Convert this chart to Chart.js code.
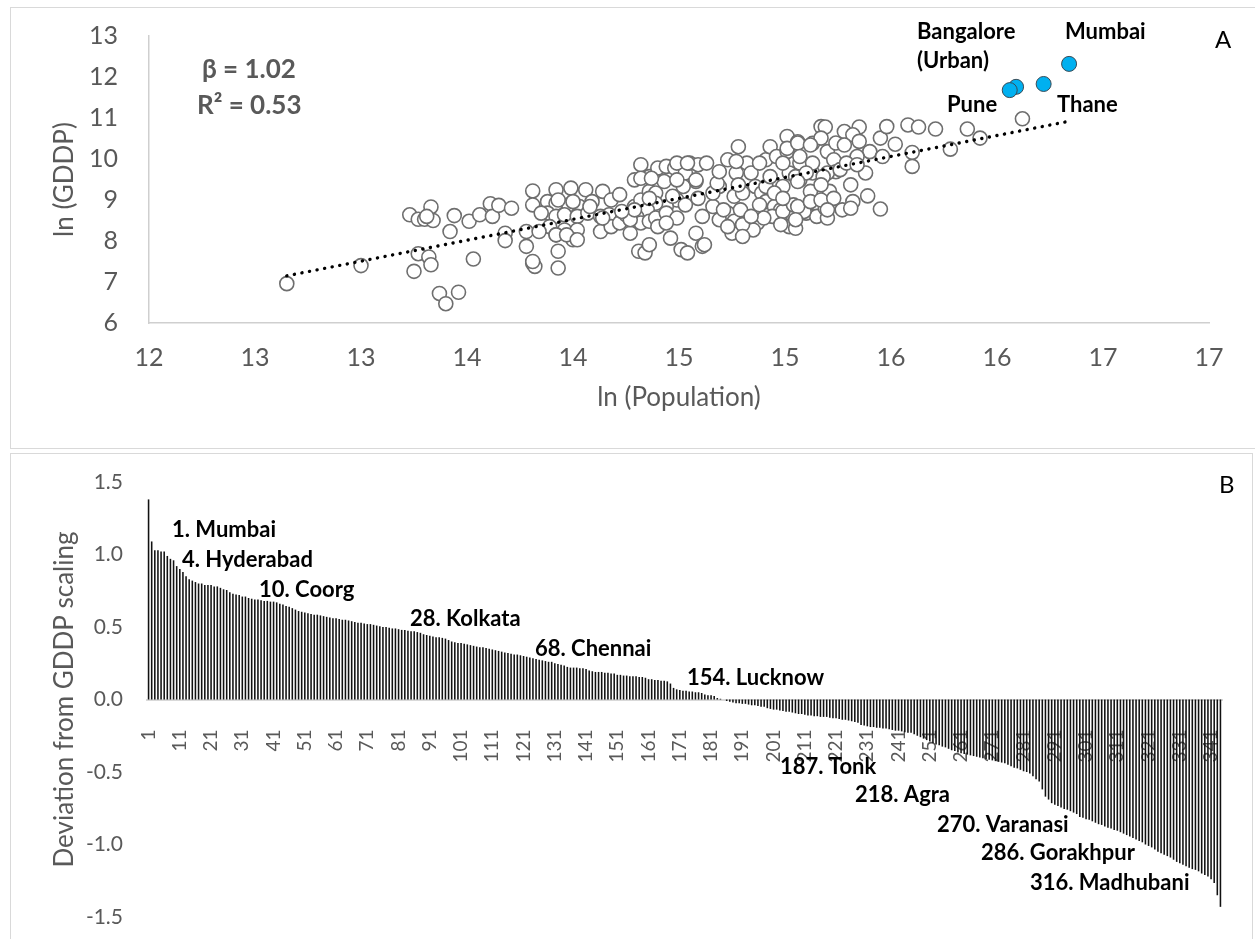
<!DOCTYPE html>
<html><head><meta charset="utf-8">
<script src="https://cdn.jsdelivr.net/npm/chart.js@4"></script>
<style>
html,body{margin:0;padding:0;background:#fff;overflow:hidden;width:1255px;height:939px}
#wrap{position:relative;width:1255px;height:939px;overflow:hidden}
.panel{position:absolute;border:1.5px solid #d9d9d9;box-sizing:border-box}
canvas{position:absolute;left:0}
</style></head><body>
<div id="wrap">
<div class="panel" style="left:10px;top:7px;width:1260px;height:442px"></div>
<div class="panel" style="left:10px;top:453px;width:1243px;height:500px"></div>
<canvas id="ca" width="1255" height="450" style="top:0"></canvas>
<canvas id="cb" width="1255" height="489" style="top:450px"></canvas>
</div>
<script>
// ---------- Panel A data ----------
const xTickLabelsA = ["12","13","13","14","14","15","15","16","16","17","17"];
const yTickLabelsA = ["6","7","8","9","10","11","12","13"];
const popX = [
12.65,13.00,13.23,13.27,13.30,13.33,13.34,13.31,13.27,13.32,13.33,13.25,13.37,13.40,13.46,13.42,13.44,13.51,13.56,13.53,
13.61,13.62,13.65,13.71,13.68,13.68,13.81,13.81,13.78,13.78,13.81,13.82,
13.92,13.99,14.06,13.88,13.92,13.98,14.03,14.09,14.14,14.18,14.22,13.88,13.92,13.96,14.02,14.07,14.13,14.17,
13.89,13.96,14.02,13.92,14.00,14.13,14.18,14.22,14.25,14.27,14.29,14.32,14.29,14.32,14.36,14.40,14.39,14.36,14.39,14.43,
14.44,14.48,14.53,14.55,14.59,14.63,14.58,14.52,14.49,14.44,14.39,14.35,14.30,14.32,14.36,14.39,14.44,14.40,14.31,14.34,
14.36,14.46,14.51,14.54,14.58,14.61,14.62,14.61,14.66,14.69,14.73,14.77,14.78,14.82,14.84,14.76,14.80,14.86,14.89,14.91,
14.95,14.73,14.76,14.82,14.87,14.69,14.75,14.85,14.91,14.93,14.96,15.01,15.01,15.06,15.07,15.02,15.07,15.12,14.99,14.98,
15.04,15.02,15.05,15.10,15.13,15.17,15.13,15.14,15.15,
13.93,14.00,14.08,13.85,14.14,13.84,13.92,13.97,14.02,13.93,13.93,13.81,14.27,14.29,14.23,14.32,14.37,14.49,14.54,14.49,
14.58,14.36,14.47,14.53,14.59,14.49,14.44,14.66,14.68,14.69,14.77,14.78,14.71,14.73,14.79,14.80,14.88,14.91,14.93,14.88,
14.99,15.01,14.95,14.94,14.99,14.98,15.04,15.05,14.99,14.90,14.80,14.84,
15.19,15.28,15.35,15.32,15.17,15.20,15.24,15.28,15.35,15.40,15.45,15.48,15.52,15.46,15.58,15.63,15.71,15.60,15.60,15.78,
15.86,15.92,16.12,15.23,15.34,15.38,15.31,15.39,15.32,15.27,15.45,15.19,15.20,15.21,15.24,15.20,15.09,15.31,15.06,15.07,
15.12,15.13,15.10,15.06,15.06,15.05,15.18,15.17,15.12,15.17,15.23,15.20,15.26,15.29,15.34
];
const gddpY = [
6.96,7.40,8.64,8.53,8.53,8.83,8.50,8.60,7.69,7.61,7.42,7.26,6.72,6.47,6.75,8.23,8.62,8.48,8.64,7.56,
8.91,8.60,8.87,8.80,8.19,8.01,9.22,8.88,8.23,7.87,7.45,7.38,
9.25,9.29,9.25,8.96,8.92,8.88,8.84,8.96,9.21,9.00,9.13,8.68,8.60,8.64,8.60,8.68,8.60,8.64,
8.35,8.27,8.27,8.15,8.03,8.23,8.35,8.44,8.64,8.19,8.84,9.00,9.49,9.86,9.57,9.78,9.45,9.21,9.17,9.45,
9.82,9.78,9.66,9.90,9.86,9.90,9.45,9.33,9.00,8.84,8.92,8.76,8.60,8.44,8.48,8.56,8.68,8.35,7.75,7.71,
7.91,8.07,7.79,7.71,8.19,7.87,7.91,8.60,8.84,9.33,9.98,9.66,10.30,9.90,9.66,9.09,9.17,9.33,9.17,8.96,
8.84,8.68,8.48,8.52,8.44,8.52,8.19,8.27,9.98,10.30,10.06,10.55,10.18,10.42,9.90,9.66,9.49,9.21,9.33,8.76,
8.60,8.35,8.31,8.68,10.38,10.79,9.66,8.92,8.60,
9.00,8.96,8.84,8.68,8.56,8.23,8.15,8.15,8.03,7.75,7.34,7.50,8.52,8.76,8.72,9.53,9.53,9.90,9.90,9.49,
9.49,9.04,9.09,8.88,9.04,8.56,8.44,9.17,9.41,9.69,9.94,9.37,8.76,8.35,8.76,8.40,8.88,9.33,9.57,9.90,
9.90,10.26,9.17,8.60,8.72,8.40,8.88,9.57,9.04,8.56,8.11,8.60,
10.78,10.67,10.78,10.59,10.51,10.18,10.39,10.34,10.43,10.18,10.51,10.79,10.36,10.06,10.83,10.78,10.73,10.16,9.82,10.24,
10.73,10.51,10.98,9.98,10.06,9.66,9.37,9.10,8.96,8.76,8.78,8.80,8.56,9.21,9.69,9.66,8.72,8.80,10.39,10.06,
10.34,9.90,9.66,9.45,8.84,8.52,9.57,9.37,8.96,9.00,9.04,8.76,9.74,9.90,9.86
];
const topNames = ["Mumbai","Thane","Bangalore (Urban)","Pune"];
const topPopX = [16.34,16.22,16.09,16.06];
const topGddpY = [12.32,11.83,11.76,11.68];
const trendX = [12.65,16.33];
const trendY = [7.15,10.91];

// ---------- Panel B data ----------
const yTickLabelsB = ["-1.5","-1.0","-0.5","0.0","0.5","1.0","1.5"];
const deviation = [
1.38,1.09,1.03,1.03,1.02,1.02,0.99,0.97,0.96,0.92,
0.90,0.88,0.85,0.83,0.82,0.81,0.80,0.80,0.79,0.79,
0.79,0.78,0.78,0.77,0.76,0.755,0.74,0.73,0.725,0.72,
0.71,0.71,0.70,0.695,0.69,0.69,0.685,0.68,0.68,0.675,
0.675,0.67,0.66,0.655,0.645,0.64,0.63,0.62,0.61,0.605,
0.60,0.595,0.59,0.585,0.585,0.58,0.575,0.57,0.565,0.56,
0.56,0.555,0.55,0.55,0.545,0.54,0.535,0.53,0.53,0.525,
0.52,0.52,0.515,0.51,0.505,0.50,0.50,0.495,0.49,0.49,
0.485,0.48,0.48,0.475,0.47,0.47,0.465,0.46,0.45,0.445,
0.44,0.435,0.43,0.43,0.425,0.42,0.41,0.40,0.395,0.39,
0.39,0.385,0.38,0.375,0.37,0.365,0.36,0.36,0.355,0.35,
0.345,0.34,0.335,0.33,0.325,0.32,0.315,0.31,0.31,0.305,
0.30,0.295,0.29,0.285,0.28,0.275,0.27,0.265,0.26,0.26,
0.25,0.245,0.24,0.235,0.225,0.22,0.22,0.22,0.215,0.215,
0.21,0.20,0.195,0.19,0.19,0.19,0.185,0.185,0.18,0.18,
0.17,0.17,0.165,0.165,0.16,0.16,0.16,0.155,0.155,0.15,
0.14,0.14,0.135,0.135,0.13,0.13,0.125,0.11,0.08,0.07,
0.065,0.06,0.06,0.055,0.055,0.05,0.05,0.045,0.035,0.03,
0.03,0.025,0.01,0.005,0.0,-0.01,-0.015,-0.02,-0.025,-0.025,
-0.03,-0.03,-0.035,-0.04,-0.04,-0.045,-0.05,-0.05,-0.06,-0.065,
-0.07,-0.07,-0.075,-0.08,-0.085,-0.085,-0.09,-0.095,-0.10,-0.10,
-0.105,-0.11,-0.11,-0.115,-0.115,-0.12,-0.12,-0.12,-0.125,-0.13,
-0.13,-0.135,-0.14,-0.14,-0.145,-0.15,-0.155,-0.16,-0.175,-0.18,
-0.185,-0.19,-0.19,-0.195,-0.195,-0.20,-0.20,-0.205,-0.21,-0.215,
-0.215,-0.22,-0.225,-0.23,-0.23,-0.24,-0.25,-0.26,-0.27,-0.28,
-0.29,-0.30,-0.31,-0.315,-0.325,-0.33,-0.34,-0.35,-0.355,-0.365,
-0.37,-0.375,-0.38,-0.385,-0.39,-0.395,-0.40,-0.405,-0.41,-0.415,
-0.42,-0.425,-0.43,-0.435,-0.44,-0.45,-0.46,-0.47,-0.475,-0.485,
-0.495,-0.50,-0.51,-0.53,-0.55,-0.565,-0.62,-0.67,-0.69,-0.715,
-0.725,-0.735,-0.745,-0.755,-0.76,-0.77,-0.78,-0.79,-0.81,-0.815,
-0.825,-0.83,-0.84,-0.85,-0.86,-0.865,-0.875,-0.885,-0.89,-0.90,
-0.905,-0.915,-0.925,-0.935,-0.945,-0.955,-0.965,-0.975,-0.985,-1.00,
-1.01,-1.02,-1.035,-1.05,-1.06,-1.07,-1.08,-1.09,-1.105,-1.12,
-1.13,-1.14,-1.15,-1.16,-1.17,-1.175,-1.185,-1.20,-1.21,-1.22,
-1.24,-1.265,-1.35,-1.43
];
const ranks = deviation.map((v,i)=>String(i+1));
const namedRanks = ["1. Mumbai","4. Hyderabad","10. Coorg","28. Kolkata","68. Chennai","154. Lucknow","187. Tonk","218. Agra","270. Varanasi","286. Gorakhpur","316. Madhubani"];

// ---------- styling / layout ----------
const FONT = 'Lato, "Open Sans", sans-serif';
const GREY = '#595959';
function textPlugin(items){
  return {id:'txt', afterDraw(chart){
    const ctx = chart.ctx; ctx.save();
    ctx.textBaseline = 'middle'; ctx.textAlign = 'left';
    items.forEach(t=>{ ctx.font = t.font; ctx.fillStyle = t.color; ctx.fillText(t.text, t.x, t.y); });
    ctx.restore();
  }};
}
const BOLD = 'bold 22px ' + FONT;
const annA = [
  {text:'\u03B2 = 1.02', x:202, y:70, font:'bold 26px '+FONT, color:GREY},
  {text:'R\u00B2 = 0.53', x:197, y:106, font:'bold 26px '+FONT, color:GREY},
  {text:'Bangalore', x:917, y:32, font:BOLD, color:'#000'},
  {text:'(Urban)', x:917, y:61, font:BOLD, color:'#000'},
  {text:topNames[0], x:1065, y:32, font:BOLD, color:'#000'},
  {text:topNames[3], x:947, y:105, font:BOLD, color:'#000'},
  {text:topNames[1], x:1057, y:105, font:BOLD, color:'#000'},
  {text:'A', x:1215, y:40, font:'24px '+FONT, color:'#000'}
];
const posB = [[172,80],[182,110],[259,140],[410,169],[535,199],[687,228],[780,317],[855,345],[937,375],[981,403],[1030,433]];
const annB = namedRanks.map((t,i)=>({text:t, x:posB[i][0], y:posB[i][1], font:BOLD, color:'#000'}));
annB.push({text:'B', x:1219, y:35, font:'24px '+FONT, color:'#000'});

new Chart(document.getElementById('ca'), {
  type:'scatter',
  data:{datasets:[
    {label:'trend', data:trendX.map((x,i)=>({x:x, y:trendY[i]})), showLine:true, borderColor:'#000', borderWidth:3.4,
     borderDash:[0.1,7.6], borderCapStyle:'round', pointRadius:0, fill:false, order:0},
    {label:'top', data:topPopX.map((x,i)=>({x:x, y:topGddpY[i]})), pointRadius:7.5, backgroundColor:'#00b0f0',
     borderColor:'#3a4a55', borderWidth:1, order:1},
    {label:'districts', data:popX.map((x,i)=>({x:x, y:gddpY[i]})), pointRadius:7, backgroundColor:'#ffffff',
     borderColor:'#6e6e6e', borderWidth:1.6, order:2}
  ]},
  options:{
    responsive:false, animation:false, devicePixelRatio:1,
    layout:{padding:{left:45, top:36, right:46, bottom:33}},
    plugins:{legend:{display:false}, tooltip:{enabled:false}},
    scales:{
      x:{type:'linear', min:12, max:17,
         ticks:{stepSize:0.5, color:GREY, font:{family:FONT, size:25}, padding:20, maxRotation:0,
                callback:(v,i)=>xTickLabelsA[i]},
         grid:{display:false, drawTicks:false},
         border:{display:true, color:'#cfcfcf', width:1.5},
         title:{display:true, text:'ln (Population)', color:GREY, font:{family:FONT, size:26}, padding:{top:4,bottom:4}},
         afterFit:s=>{s.height=94; s.paddingLeft=0; s.paddingRight=0;}},
      y:{type:'linear', min:6, max:13,
         ticks:{stepSize:1, color:GREY, font:{family:FONT, size:25}, padding:31, callback:(v,i)=>yTickLabelsA[i]},
         grid:{display:false, drawTicks:false},
         border:{display:true, color:'#cfcfcf', width:1.5},
         title:{display:true, text:'ln (GDDP)', color:GREY, font:{family:FONT, size:26}, padding:{top:4,bottom:4}},
         afterFit:s=>{s.width=104; s.paddingTop=0; s.paddingBottom=0;}}
    }
  },
  plugins:[textPlugin(annA)]
});

new Chart(document.getElementById('cb'), {
  type:'bar',
  data:{labels:ranks, datasets:[{label:'Deviation', data:deviation, backgroundColor:'#111111',
        barPercentage:0.5, categoryPercentage:1.0}]},
  options:{
    responsive:false, animation:false, devicePixelRatio:1,
    layout:{padding:{left:45, top:32, right:33, bottom:22}},
    plugins:{legend:{display:false}, tooltip:{enabled:false}},
    scales:{
      x:{type:'category', position:{y:0}, offset:true,
         ticks:{autoSkip:false, minRotation:90, maxRotation:90, color:GREY, font:{family:FONT, size:19}, padding:30,
                callback:(v,i)=> (i%10===0 ? ranks[i] : '')},
         grid:{display:false, drawTicks:false},
         border:{display:true, color:'#d9d9d9', width:2},
         afterFit:s=>{s.height=0; s.paddingLeft=0; s.paddingRight=0;}},
      y:{type:'linear', min:-1.5, max:1.5,
         ticks:{stepSize:0.5, color:GREY, font:{family:FONT, size:21}, padding:24, callback:(v,i)=>yTickLabelsB[i]},
         grid:{display:false, drawTicks:false},
         border:{display:false},
         title:{display:true, text:'Deviation from GDDP scaling', color:GREY, font:{family:FONT, size:26}, padding:{top:4,bottom:4}},
         afterFit:s=>{s.width=102; s.paddingTop=0; s.paddingBottom=0;}}
    }
  },
  plugins:[textPlugin(annB)]
});
</script>
</body></html>
